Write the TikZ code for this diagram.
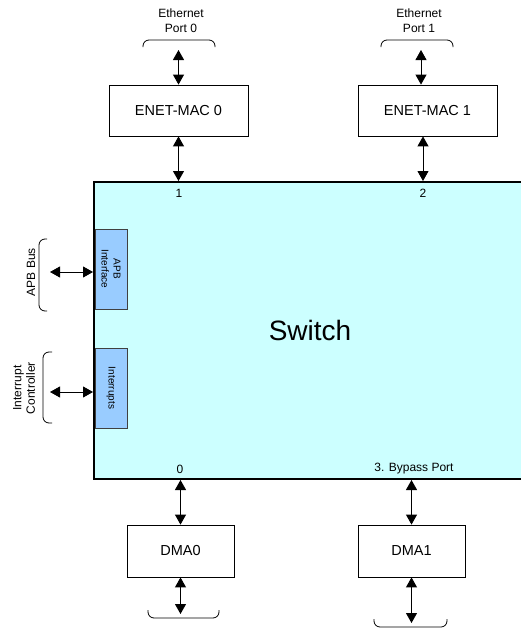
\documentclass[tikz,border=0pt]{standalone}
\usepackage{fontspec}
\setmainfont{Liberation Sans}
\usetikzlibrary{arrows.meta}

\definecolor{switchfill}{HTML}{CCFFFF}
\definecolor{portfill}{HTML}{99CCFF}

\begin{document}
\begin{tikzpicture}[x=1pt, y=-1pt,
    >={Triangle[width=11pt,length=10pt]},
    block/.style={draw, line width=0.8pt, fill=white, inner sep=0pt,
        font=\fontsize{14.5}{16}\selectfont},
    iface/.style={draw=black!75, line width=0.8pt, fill=portfill, rotate=-90,
        minimum width=80pt, minimum height=32pt, inner sep=0pt, align=center,
        font=\fontsize{10}{12}\selectfont},
    lbl/.style={font=\fontsize{12}{15}\selectfont, align=center, inner sep=0pt},
    link/.style={<->, line width=0.9pt},
    brace/.style={line width=0.8pt, rounded corners=6pt}]

    \useasboundingbox (0,0) rectangle (520,629);

    % --- Switch ---
    \node[draw, line width=2pt, fill=switchfill, anchor=north west, inner sep=0pt,
        minimum width=460pt, minimum height=297pt] (sw) at (93,181) {};
    \node[font=\fontsize{28}{30}\selectfont] (swname) at (310,330) {Switch};

    % Port numbers
    \node[lbl] (p1) at (179,193) {1};
    \node[lbl] (p2) at (423,193) {2};
    \node[lbl] (p0) at (180,469) {0};
    \node[lbl] (p3) at (414,469) {3. Bypass Port};

    % Interfaces on the left edge
    \node[iface] (apb) at (111,269) {APB\\Interface};
    \node[iface] (irq) at (111,388) {Interrupts};

    % --- Blocks ---
    \node[block, minimum width=139pt, minimum height=51pt] (mac0) at (178.5,110.5) {ENET-MAC 0};
    \node[block, minimum width=139pt, minimum height=51pt] (mac1) at (427.5,110.5) {ENET-MAC 1};
    \node[block, minimum width=107pt, minimum height=52pt] (dma0) at (180.5,551) {DMA0};
    \node[block, minimum width=107pt, minimum height=52pt] (dma1) at (411.5,551) {DMA1};

    % --- Free ends ---
    \coordinate (eth0) at (178.5,50);
    \coordinate (eth1) at (421,50);
    \coordinate (apbbus) at (50,272);
    \coordinate (irqctl) at (50,392);
    \coordinate (out0) at (180.5,614);
    \coordinate (out1) at (411.5,623);

    % --- Links ---
    \draw[link] (eth0) -- (mac0.north);
    \draw[link] (eth1) -- (eth1 |- mac1.north);
    \draw[link] (mac0.south) -- (mac0.south |- sw.north);
    \draw[link] (mac1.south -| p2) -- (p2 |- sw.north);
    \draw[link] (dma0.north) -- (dma0.north |- sw.south);
    \draw[link] (dma1.north) -- (dma1.north |- sw.south);
    \draw[link] (dma0.south) -- (out0);
    \draw[link] (dma1.south) -- (out1);
    \draw[link] (apbbus) -- (apbbus -| sw.west);
    \draw[link] (irqctl) -- (irqctl -| sw.west);

    % --- Braces and outside labels ---
    \draw[brace] (143,47) |- (179,40) -| (215,47);
    \draw[brace] (381,47) |- (417,40) -| (453,47);
    \node[lbl] (eth0name) at (181,21) {Ethernet\\Port 0};
    \node[lbl] (eth1name) at (419,21) {Ethernet\\Port 1};

    \draw[brace] (47,239) -| (39,275) |- (47,311);
    \draw[brace] (52,352) -| (43,388) |- (52,423);
    \node[lbl, rotate=90] (apbname) at (31,272) {APB Bus};
    \node[lbl, rotate=90, font=\fontsize{12}{13.5}\selectfont] (irqname) at (24,388) {Interrupt\\Controller};

    \draw[brace] (148,610) |- (183,618) -| (219,610);
    \draw[brace] (374,619) |- (410,627) -| (447,619);

\end{tikzpicture}
\end{document}
